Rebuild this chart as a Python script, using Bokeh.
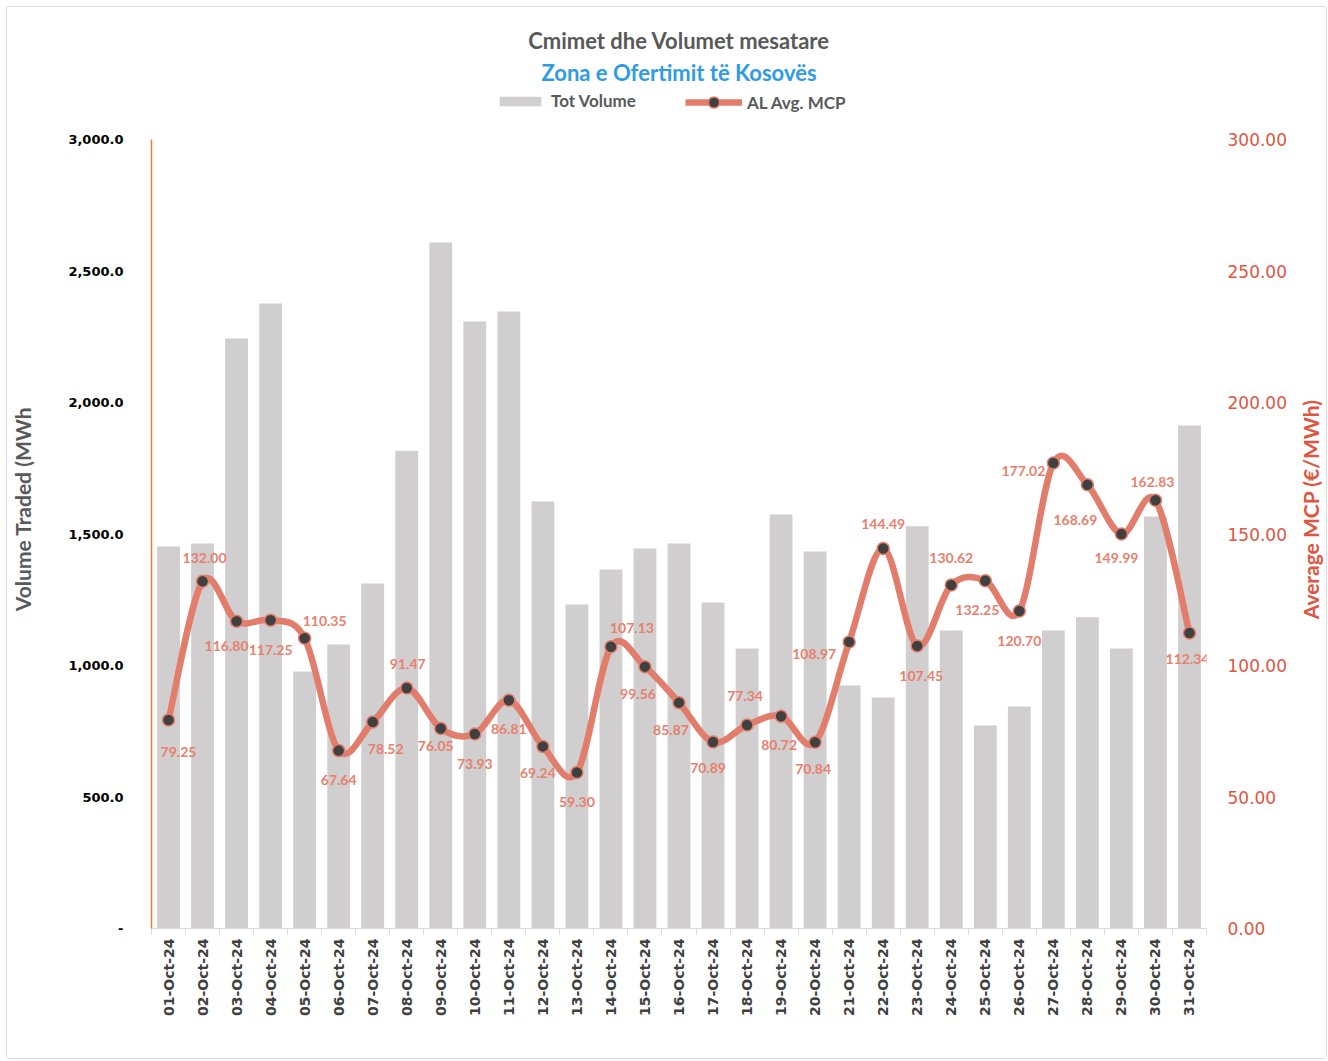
from bokeh.plotting import figure
from bokeh.layouts import row
from bokeh.models import (Range1d, LinearAxis, FixedTicker, NumeralTickFormatter,
                          PrintfTickFormatter, ColumnDataSource, Title, Legend, LegendItem,
                          Label)
from bokeh.core.properties import value
from bokeh.embed import file_html
from bokeh.resources import INLINE
import math

dates = ["01-Oct-24", "02-Oct-24", "03-Oct-24", "04-Oct-24", "05-Oct-24", "06-Oct-24",
         "07-Oct-24", "08-Oct-24", "09-Oct-24", "10-Oct-24", "11-Oct-24", "12-Oct-24",
         "13-Oct-24", "14-Oct-24", "15-Oct-24", "16-Oct-24", "17-Oct-24", "18-Oct-24",
         "19-Oct-24", "20-Oct-24", "21-Oct-24", "22-Oct-24", "23-Oct-24", "24-Oct-24",
         "25-Oct-24", "26-Oct-24", "27-Oct-24", "28-Oct-24", "29-Oct-24", "30-Oct-24",
         "31-Oct-24"]

tot_volume = [1452, 1464, 2243, 2376, 977, 1080, 1312, 1817, 2608, 2308, 2346, 1624,
              1232, 1365, 1445, 1464, 1240, 1065, 1574, 1433, 924, 878, 1529, 1133,
              772, 844, 1133, 1183, 1065, 1567, 1913]

avg_mcp = [79.25, 132.00, 116.80, 117.25, 110.35, 67.64, 78.52, 91.47, 76.05, 73.93,
           86.81, 69.24, 59.30, 107.13, 99.56, 85.87, 70.89, 77.34, 80.72, 70.84,
           108.97, 144.49, 107.45, 130.62, 132.25, 120.70, 177.02, 168.69, 149.99,
           162.83, 112.34]

vol_ticks = [0, 500, 1000, 1500, 2000, 2500, 3000]
mcp_ticks = [0, 50, 100, 150, 200, 250, 300]

# label placement (pixel offsets from each marker; layout only)
lab_dx = [10, 2, -10, 0, 20, 0, 13, 1, -5, 0, 0, -5, 0, 21, -7, -8, -5, -2, -2, -2,
          -35, 0, 4, 0, -8, 0, -30, -12, -5, -3, -2]
lab_dy = [32, -23, 25, 30, -17, 29, 27, -24, 18, 30, 29, 27, 29, -19, 27, 27, 26, -29,
          29, 27, 12, -24, 30, -27, 29, 30, 8, 35, 24, -18, 26]

n = len(dates)
xs = list(range(1, n + 1))

LINE_C = "#E27D6C"
LABEL_C = "#E8806E"
AXIS_RED = "#E0553F"
GRAY_TXT = "#595959"

# the frame reaches up to the legend row; axes stop at their top tick
VOL_MAX = vol_ticks[-1]
MCP_MAX = mcp_ticks[-1]
EXT = 839.0 / 789.0

W_MAIN = 1291
W_SIDE = 28
H = 1051

p = figure(width=W_MAIN, height=H, output_backend="svg", toolbar_location=None,
           x_range=Range1d(0.5, n + 0.5), y_range=Range1d(0, VOL_MAX * EXT),
           min_border_left=142, min_border_right=92, min_border_top=82,
           min_border_bottom=130)
p.outline_line_color = None
p.xgrid.visible = False
p.ygrid.visible = False

p.extra_y_ranges = {"price": Range1d(0, MCP_MAX * EXT)}

# bars
bars = p.vbar(x=xs, top=tot_volume, width=0.67, fill_color="#D0CECE", line_color=None)

# smooth line (Catmull-Rom style bezier through the data points)
pts = list(zip(xs, avg_mcp))
bx0, by0, bx1, by1, cx0, cy0, cx1, cy1 = [], [], [], [], [], [], [], []
for i in range(n - 1):
    p0 = pts[i - 1] if i > 0 else pts[i]
    p1 = pts[i]
    p2_ = pts[i + 1]
    p3 = pts[i + 2] if i + 2 < n else pts[i + 1]
    bx0.append(p1[0]); by0.append(p1[1])
    bx1.append(p2_[0]); by1.append(p2_[1])
    cx0.append(p1[0] + (p2_[0] - p0[0]) / 6.0); cy0.append(p1[1] + (p2_[1] - p0[1]) / 6.0)
    cx1.append(p2_[0] - (p3[0] - p1[0]) / 6.0); cy1.append(p2_[1] - (p3[1] - p1[1]) / 6.0)
curve = p.bezier(x0=bx0, y0=by0, x1=bx1, y1=by1, cx0=cx0, cy0=cy0, cx1=cx1, cy1=cy1,
                 line_color=LINE_C, line_width=6.5, y_range_name="price")

marks = p.scatter(x=xs, y=avg_mcp, size=12, marker="circle", fill_color="#404040",
                  line_color=LINE_C, line_width=1.5, y_range_name="price")

src = ColumnDataSource(dict(x=xs, y=avg_mcp, t=["%.2f" % v for v in avg_mcp],
                            dx=lab_dx, dy=lab_dy))
p.text(x="x", y="y", text="t", x_offset="dx", y_offset="dy", source=src,
       y_range_name="price", text_color=LABEL_C, text_font=value("Lato"),
       text_font_style="bold", text_font_size="14px", text_align="center",
       text_baseline="middle")

# axes
p.xaxis.ticker = FixedTicker(ticks=xs, minor_ticks=[i + 0.5 for i in range(0, n + 1)])
p.xaxis.major_label_overrides = {x: d for x, d in zip(xs, dates)}
p.xaxis.major_label_orientation = math.pi / 2
p.xaxis.major_tick_line_color = None
p.xaxis.major_tick_out = 0
p.xaxis.minor_tick_out = 6
p.xaxis.minor_tick_in = 0
p.xaxis.minor_tick_line_color = "#D9D9D9"
p.xaxis.axis_line_color = "#D9D9D9"
p.xaxis.major_label_standoff = 4
p.xaxis.major_label_text_font = "DejaVu Sans"
p.xaxis.major_label_text_font_style = "bold"
p.xaxis.major_label_text_font_size = "14px"
p.xaxis.major_label_text_color = "#404040"

p.yaxis.ticker = FixedTicker(ticks=vol_ticks)
p.yaxis.bounds = (0, VOL_MAX)
p.yaxis.formatter = NumeralTickFormatter(format="0,0.0")
p.yaxis.major_label_overrides = {0: "-"}
p.yaxis.major_tick_line_color = None
p.yaxis.minor_tick_line_color = None
p.yaxis.axis_line_color = "#ED7D31"
p.yaxis.axis_line_width = 1.5
p.yaxis.major_label_standoff = 22
p.yaxis.major_label_text_font = "DejaVu Sans"
p.yaxis.major_label_text_font_style = "bold"
p.yaxis.major_label_text_font_size = "13px"
p.yaxis.major_label_text_color = "#000000"
p.yaxis.axis_label = "Volume Traded (MWh"
p.yaxis.axis_label_text_font = "Lato"
p.yaxis.axis_label_text_font_style = "bold"
p.yaxis.axis_label_text_font_size = "21px"
p.yaxis.axis_label_text_color = GRAY_TXT
p.yaxis.axis_label_standoff = 30

ra = LinearAxis(y_range_name="price", ticker=FixedTicker(ticks=mcp_ticks),
                formatter=PrintfTickFormatter(format="%.2f"), bounds=(0, MCP_MAX))
ra.axis_line_color = None
ra.major_tick_line_color = None
ra.minor_tick_line_color = None
ra.major_label_standoff = 15
ra.major_label_text_font = "DejaVu Sans"
ra.major_label_text_font_size = "17px"
ra.major_label_text_color = AXIS_RED
p.add_layout(ra, "right")

# legends inside the top strip of the frame
leg_common = dict(orientation="horizontal", padding=0, margin=0, border_line_color=None,
                  background_fill_alpha=0, label_standoff=5, label_text_font="Lato",
                  label_text_font_style="bold", label_text_font_size="17px",
                  label_text_color=GRAY_TXT)
leg1 = Legend(items=[LegendItem(label="Tot Volume", renderers=[bars])],
              location=(343, 817), glyph_width=52, glyph_height=12, **leg_common)
leg2 = Legend(items=[LegendItem(label="AL Avg. MCP", renderers=[curve, marks])],
              location=(534, 812), glyph_width=57, glyph_height=28, **leg_common)
p.add_layout(leg1, "center")
p.add_layout(leg2, "center")

# titles
p.add_layout(Title(text="Zona e Ofertimit të Kosovës", align="center", standoff=7,
                   text_font="Lato", text_font_style="bold", text_font_size="22px",
                   text_color="#2E9BE6"), "above")
p.add_layout(Title(text="Cmimet dhe Volumet mesatare", align="center", standoff=0,
                   text_font="Lato", text_font_style="bold", text_font_size="22px",
                   text_color=GRAY_TXT), "above")

# narrow strip on the right carrying the secondary axis title
side = figure(width=W_SIDE, height=H, output_backend="svg", toolbar_location=None,
              x_range=Range1d(0, W_SIDE), y_range=Range1d(0, H),
              min_border=0)
side.axis.visible = False
side.grid.visible = False
side.outline_line_color = None
side.add_layout(Label(x=W_SIDE / 2.0 - 2, y=H - 526, text="Average MCP (€/MWh)",
                      angle=math.pi / 2, text_align="center", text_baseline="middle",
                      text_font="Lato", text_font_style="bold", text_font_size="21px",
                      text_color=AXIS_RED))

layout = row(p, side)
layout.styles = {"border": "1px solid #D9D9D9", "border-radius": "3px",
                 "margin-left": "6px", "margin-top": "6px"}

open("out.html", "w").write(file_html(layout, INLINE))
